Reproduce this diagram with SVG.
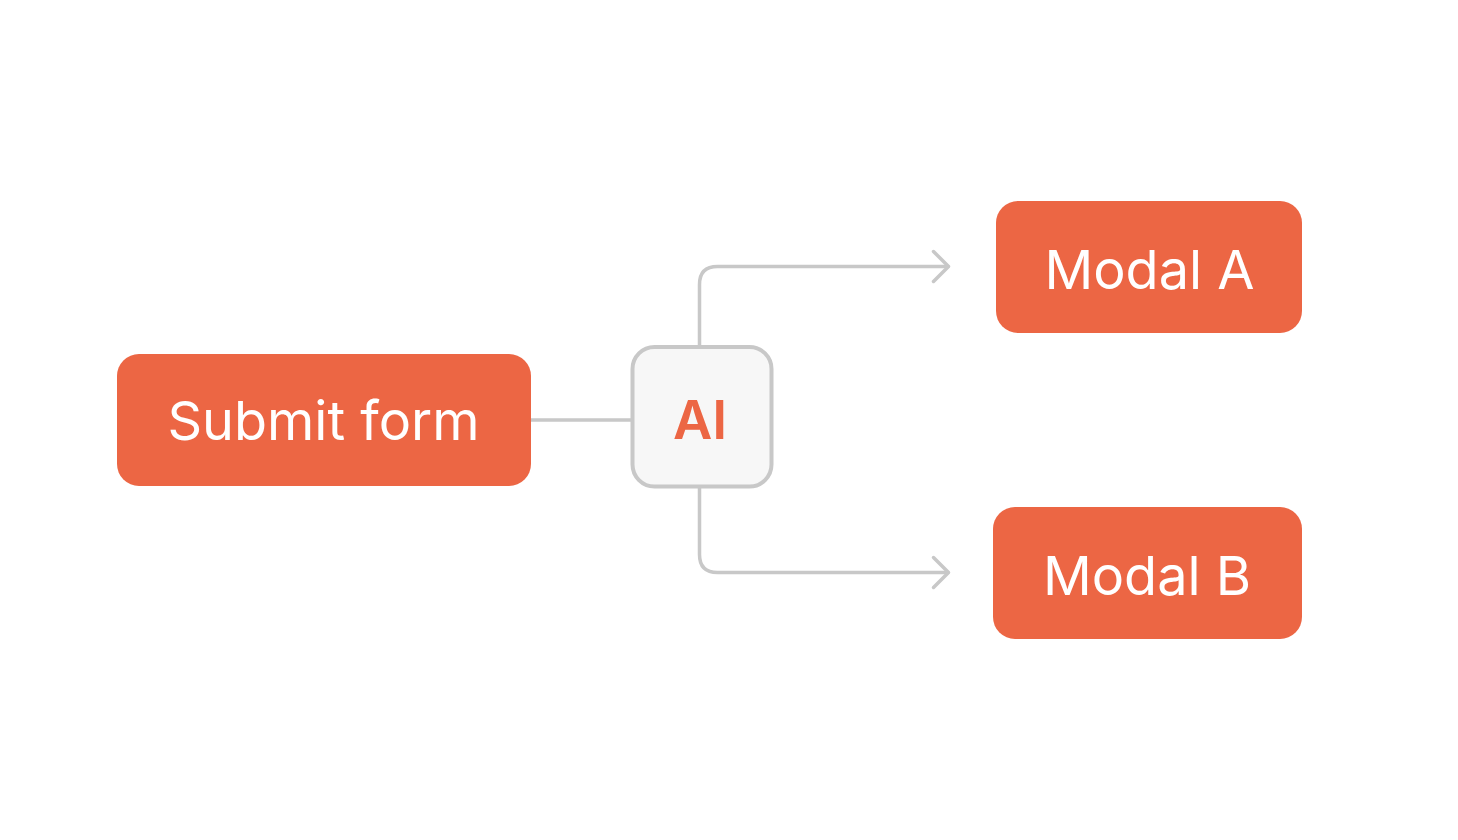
<svg xmlns="http://www.w3.org/2000/svg" width="1458" height="840" viewBox="0 0 1458 840">
  <style>
    .node { fill: #EC6644; }
    .label { font-family: Inter, "Liberation Sans", sans-serif; font-size: 54px; fill: #FFFFFF; text-anchor: middle; }
    .conn { fill: none; stroke: #C8C8C8; stroke-width: 3.5; stroke-linecap: round; stroke-linejoin: round; }
    .ai-box { fill: #F7F7F7; stroke: #C8C8C8; stroke-width: 4; }
    .ai-label { font-family: Inter, "Liberation Sans", sans-serif; font-size: 54px; font-weight: 600; fill: #EC6644; text-anchor: middle; }
  </style>
  <rect width="1458" height="840" fill="#FFFFFF"/>
  <g id="connectors">
    <path class="conn" d="M531 420 H632"/>
    <path class="conn" d="M699.5 347 V284.5 Q699.5 266.5 717.5 266.5 H948"/>
    <path class="conn" d="M933.5 251.5 L948.5 266.5 L933.5 281.5"/>
    <path class="conn" d="M699.5 486.5 V554.5 Q699.5 572.5 717.5 572.5 H948"/>
    <path class="conn" d="M933.5 557.5 L948.5 572.5 L933.5 587.5"/>
  </g>
  <g id="submit-form">
    <rect class="node" x="117" y="354" width="414" height="132" rx="22"/>
    <text class="label" x="323.5" y="440">Submit form</text>
  </g>
  <g id="ai">
    <rect class="ai-box" x="632.5" y="347" width="139" height="139.5" rx="22"/>
    <text class="ai-label" x="700" y="438.5">AI</text>
  </g>
  <g id="modal-a">
    <rect class="node" x="996" y="201" width="306" height="132" rx="22"/>
    <text class="label" x="1149.5" y="288.5">Modal A</text>
  </g>
  <g id="modal-b">
    <rect class="node" x="993" y="507" width="309" height="132" rx="22"/>
    <text class="label" x="1147" y="594.5">Modal B</text>
  </g>
</svg>
